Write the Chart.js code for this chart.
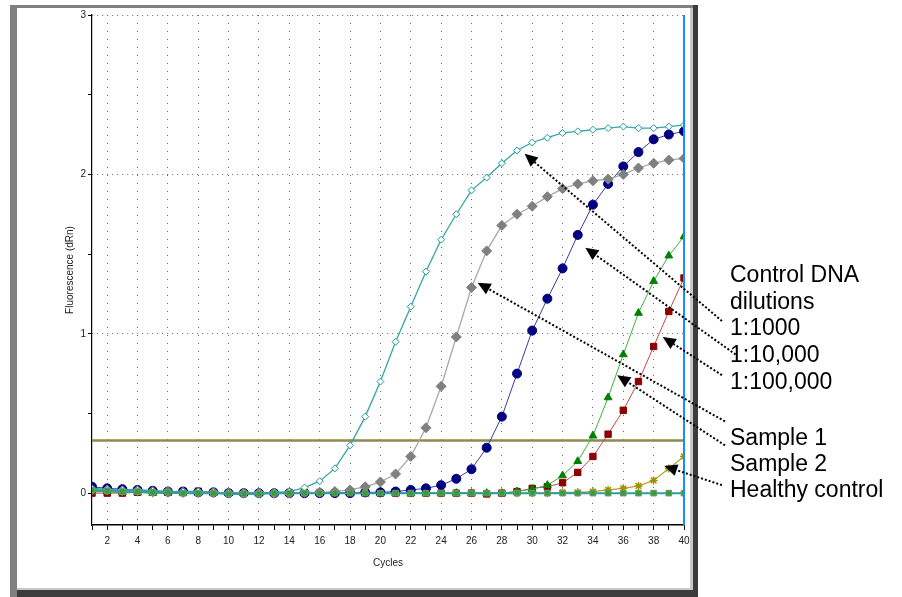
<!DOCTYPE html>
<html>
<head>
<meta charset="utf-8">
<script src="https://cdn.jsdelivr.net/npm/chart.js@4.4.1/dist/chart.umd.min.js"></script>
<style>
  html, body { margin: 0; padding: 0; background: #fff; }
  canvas { display: block; }
</style>
</head>
<body>
<canvas id="chart-qpcr" width="902" height="597"></canvas>
<script>
// qPCR amplification plot — fluorescence (dRn) per cycle

const cycles = [1, 2, 3, 4, 5, 6, 7, 8, 9, 10, 11, 12, 13, 14, 15, 16, 17, 18, 19, 20,
                21, 22, 23, 24, 25, 26, 27, 28, 29, 30, 31, 32, 33, 34, 35, 36, 37, 38, 39, 40];

// control DNA 1:1000 (teal, open diamonds)
const dil1000 = [0.03, 0.025, 0.02, 0.02, 0.015, 0.01, 0.01, 0.01, 0.005, 0.0,
                 0.0, 0.0, 0.005, 0.01, 0.035, 0.075, 0.155, 0.30, 0.48, 0.70,
                 0.95, 1.17, 1.39, 1.59, 1.75, 1.90, 1.98, 2.07, 2.15, 2.20,
                 2.23, 2.26, 2.27, 2.28, 2.29, 2.30, 2.29, 2.29, 2.30, 2.31];
// control DNA 1:10,000 (grey diamonds)
const dil10k = [0.02, 0.02, 0.015, 0.015, 0.01, 0.01, 0.005, 0.005, 0.005, 0.0,
                0.0, 0.0, 0.0, 0.0, 0.005, 0.005, 0.01, 0.02, 0.04, 0.07,
                0.12, 0.23, 0.41, 0.67, 0.98, 1.29, 1.52, 1.68, 1.75, 1.80,
                1.86, 1.91, 1.94, 1.96, 1.97, 2.00, 2.04, 2.07, 2.09, 2.10];
// control DNA 1:100,000 (navy circles)
const dil100k = [0.04, 0.03, 0.025, 0.02, 0.015, 0.01, 0.01, 0.005, 0.005, 0.0,
                 0.0, 0.0, 0.0, 0.0, 0.0, 0.0, 0.0, 0.0, 0.005, 0.005,
                 0.01, 0.02, 0.03, 0.05, 0.09, 0.15, 0.285, 0.48, 0.75, 1.02,
                 1.22, 1.41, 1.62, 1.81, 1.94, 2.05, 2.14, 2.22, 2.25, 2.27];
// Sample 1 (green triangles)
const sample1 = [0.01, 0.01, 0.005, 0.005, 0.0, 0.0, 0.0, 0.0, 0.0, 0.0,
                 0.0, 0.0, 0.0, 0.0, 0.0, 0.0, 0.0, 0.0, 0.0, 0.0,
                 0.0, 0.0, 0.0, 0.0, 0.0, 0.0, 0.0, 0.0, 0.01, 0.025,
                 0.05, 0.11, 0.20, 0.36, 0.60, 0.87, 1.13, 1.33, 1.49, 1.61];
// Sample 2 (dark red squares)
const sample2 = [0.0, 0.0, 0.0, 0.005, 0.005, 0.005, 0.012, 0.012, 0.005, 0.0,
                 0.0, 0.0, 0.0, 0.0, 0.0, 0.0, 0.0, 0.0, 0.0, 0.0,
                 0.0, 0.0, 0.0, 0.0, 0.0, 0.0, -0.005, 0.0, 0.01, 0.03,
                 0.04, 0.065, 0.13, 0.23, 0.37, 0.52, 0.70, 0.92, 1.14, 1.35];
// Healthy control (olive stars)
const healthy = [0.01, 0.01, 0.005, 0.005, 0.0, 0.0, 0.0, 0.0, 0.0, 0.0,
                 0.0, 0.0, 0.0, 0.0, 0.0, 0.0, 0.0, 0.0, 0.0, 0.0,
                 0.0, 0.0, 0.0, 0.0, 0.0, 0.0, 0.0, 0.0, 0.0, 0.0,
                 0.0, 0.005, 0.005, 0.01, 0.02, 0.03, 0.045, 0.08, 0.155, 0.23];
// no-template baseline (teal line, green squares)
const baseline = [0.02, 0.015, 0.01, 0.01, 0.005, 0.005, 0.0, 0.0, 0.0, -0.005,
                  -0.005, -0.005, 0.0, 0.0, 0.0, 0.0, 0.0, 0.0, 0.0, 0.0,
                  0.0, 0.0, 0.0, 0.0, 0.0, 0.0, 0.0, 0.0, 0.0, 0.0,
                  0.0, 0.0, 0.0, 0.0, 0.0, 0.0, 0.0, 0.0, 0.0, 0.0];

const threshold = 0.33;
const yTicks = [0, 0.5, 1, 1.5, 2, 2.5, 3];

const dilutionLines = ['Control DNA', 'dilutions', '1:1000', '1:10,000', '1:100,000'];
const sampleLines = ['Sample 1', 'Sample 2', 'Healthy control'];

// pointer arrows: [cycle, dRn] of the tail (by the text) and of the tip (on the curve)
const arrows = [
  { from: [42.5, 1.08], to: [29.5, 2.13] },
  { from: [43.4, 0.87], to: [33.5, 1.54] },
  { from: [42.7, 0.45], to: [26.4, 1.32] },
  { from: [42.5, 0.74], to: [38.6, 0.98] },
  { from: [42.7, 0.30], to: [35.6, 0.74] },
  { from: [42.5, 0.05], to: [38.7, 0.17] },
];

const pts = vals => cycles.map((c, i) => ({ x: c, y: vals[i] }));

const framePlugin = {
  id: 'frame',
  beforeDraw(chart) {
    const ctx = chart.ctx;
    ctx.save();
    ctx.fillStyle = '#fff';
    ctx.fillRect(0, 0, chart.width, chart.height);
    ctx.fillStyle = '#808080';
    ctx.fillRect(10, 5, 7, 592);
    ctx.fillRect(10, 5, 688, 3);
    ctx.fillStyle = '#c8c8c8';
    ctx.fillRect(690, 8, 3, 582);
    ctx.fillRect(17, 588, 676, 2);
    ctx.fillStyle = '#3c3c3c';
    ctx.fillRect(693, 5, 5, 592);
    ctx.fillRect(17, 590, 681, 7);
    ctx.restore();
  }
};

const overlayPlugin = {
  id: 'overlay',
  afterDatasetsDraw(chart) {
    const { ctx, chartArea, scales: { x, y } } = chart;
    ctx.save();
    const bx = Math.round(x.getPixelForValue(40));
    ctx.strokeStyle = '#1a8cff';
    ctx.lineWidth = 2;
    ctx.beginPath();
    ctx.moveTo(bx, chartArea.top);
    ctx.lineTo(bx, chartArea.bottom);
    ctx.stroke();
    ctx.restore();
  },
  afterDraw(chart) {
    const { ctx, chartArea, scales: { x, y } } = chart;
    ctx.save();
    // dotted pointers
    arrows.forEach(a => {
      const x0 = x.getPixelForValue(a.from[0]), y0 = y.getPixelForValue(a.from[1]);
      const x1 = x.getPixelForValue(a.to[0]), y1 = y.getPixelForValue(a.to[1]);
      const ang = Math.atan2(y1 - y0, x1 - x0);
      const len = 13, half = 6;
      const bxp = x1 - len * Math.cos(ang), byp = y1 - len * Math.sin(ang);
      ctx.strokeStyle = '#000';
      ctx.lineWidth = 2;
      ctx.setLineDash([2, 2]);
      ctx.beginPath();
      ctx.moveTo(x0, y0);
      ctx.lineTo(bxp, byp);
      ctx.stroke();
      ctx.setLineDash([]);
      ctx.fillStyle = '#000';
      ctx.beginPath();
      ctx.moveTo(x1, y1);
      ctx.lineTo(bxp + half * Math.sin(ang), byp - half * Math.cos(ang));
      ctx.lineTo(bxp - half * Math.sin(ang), byp + half * Math.cos(ang));
      ctx.closePath();
      ctx.fill();
    });
    // labels
    ctx.fillStyle = '#000';
    ctx.font = "23px 'Liberation Sans', Arial, sans-serif";
    ctx.textAlign = 'left';
    ctx.textBaseline = 'alphabetic';
    const tx = chartArea.right + 46;
    dilutionLines.forEach((t, i) => ctx.fillText(t, tx, 282 + i * 26.7));
    sampleLines.forEach((t, i) => ctx.fillText(t, tx, 445 + i * 26));
    ctx.restore();
  }
};

const tickFont = { family: "'Liberation Sans', Arial, sans-serif", size: 10 };

new Chart(document.getElementById('chart-qpcr'), {
  type: 'line',
  data: {
    datasets: [
      {
        label: 'NTC', data: pts(baseline),
        borderColor: '#2a9f9f', borderWidth: 2,
        pointStyle: 'rect', pointRadius: 4, pointBackgroundColor: '#3c9a3c', pointBorderColor: '#6a9a70', pointBorderWidth: 1
      },
      {
        label: '1:1000', data: pts(dil1000),
        borderColor: '#35a5a5', borderWidth: 1.3,
        pointStyle: 'rectRot', pointRadius: 3.5, pointBackgroundColor: '#fff', pointBorderColor: '#1f9a9a', pointBorderWidth: 1
      },
      {
        label: '1:10,000', data: pts(dil10k),
        borderColor: '#a8a8a8', borderWidth: 1.3,
        pointStyle: 'rectRot', pointRadius: 5, pointBackgroundColor: '#808080', pointBorderColor: '#808080', pointBorderWidth: 1
      },
      {
        label: '1:100,000', data: pts(dil100k),
        borderColor: '#3c3ca8', borderWidth: 1,
        pointStyle: 'circle', pointRadius: 4.5, pointBackgroundColor: '#000080', pointBorderColor: '#000080', pointBorderWidth: 1
      },
      {
        label: 'Sample 1', data: pts(sample1),
        borderColor: '#3cb43c', borderWidth: 1,
        pointStyle: 'triangle', pointRadius: 4.5, pointBackgroundColor: '#008000', pointBorderColor: '#008000', pointBorderWidth: 1
      },
      {
        label: 'Sample 2', data: pts(sample2),
        borderColor: '#c84848', borderWidth: 1,
        pointStyle: 'rect', pointRadius: 4.5, pointBackgroundColor: '#8b0000', pointBorderColor: '#8b0000', pointBorderWidth: 1
      },
      {
        label: 'Healthy control', data: pts(healthy),
        borderColor: '#b0a028', borderWidth: 1.2,
        pointStyle: 'star', pointRadius: 4, pointBackgroundColor: '#a09000', pointBorderColor: '#a09000', pointBorderWidth: 1.5
      },
      {
        label: 'Threshold', data: [{ x: 1, y: threshold }, { x: 40, y: threshold }],
        borderColor: '#8c8a50', borderWidth: 2.6, pointRadius: 0
      }
    ]
  },
  options: {
    responsive: false,
    animation: false,
    devicePixelRatio: 1,
    layout: { padding: { left: 0, top: 15, right: 218, bottom: 22 } },
    plugins: { legend: { display: false }, tooltip: { enabled: false } },
    scales: {
      x: {
        type: 'linear', min: 1, max: 40,
        afterBuildTicks: s => { s.ticks = cycles.map(v => ({ value: v })); },
        afterFit: s => { s.height = 50; },
        ticks: {
          autoSkip: false, maxRotation: 0, padding: 5, color: '#222', font: tickFont,
          callback: v => (v % 2 === 0 ? String(v) : '')
        },
        grid: {
          color: c => (c.tick && c.tick.value % 2 === 0 && c.tick.value < 40) ? '#666' : 'rgba(0,0,0,0)',
          tickColor: '#000', tickLength: 5, lineWidth: 1
        },
        border: { display: true, color: '#000', width: 1.5, dash: [1, 7] },
        title: { display: true, text: 'Cycles', color: '#222', font: { family: tickFont.family, size: 10 }, padding: { top: 0, bottom: 6 } }
      },
      y: {
        type: 'linear', min: -0.2, max: 3,
        afterBuildTicks: s => { s.ticks = yTicks.map(v => ({ value: v })); },
        afterFit: s => { s.width = 92; },
        ticks: {
          autoSkip: false, padding: 2, color: '#222', font: tickFont,
          callback: v => (Number.isInteger(v) ? String(v) : '')
        },
        grid: {
          color: c => (c.tick && Number.isInteger(c.tick.value) && c.tick.value > 0) ? '#666' : 'rgba(0,0,0,0)',
          tickColor: '#000', tickLength: 4, lineWidth: 1
        },
        border: { display: true, color: '#000', width: 1.2, dash: [1, 4] },
        title: { display: true, text: 'Fluorescence (dRn)', color: '#222', font: { family: tickFont.family, size: 10 }, padding: { top: 64, bottom: 0 } }
      }
    }
  },
  plugins: [framePlugin, overlayPlugin]
});
</script>
</body>
</html>
